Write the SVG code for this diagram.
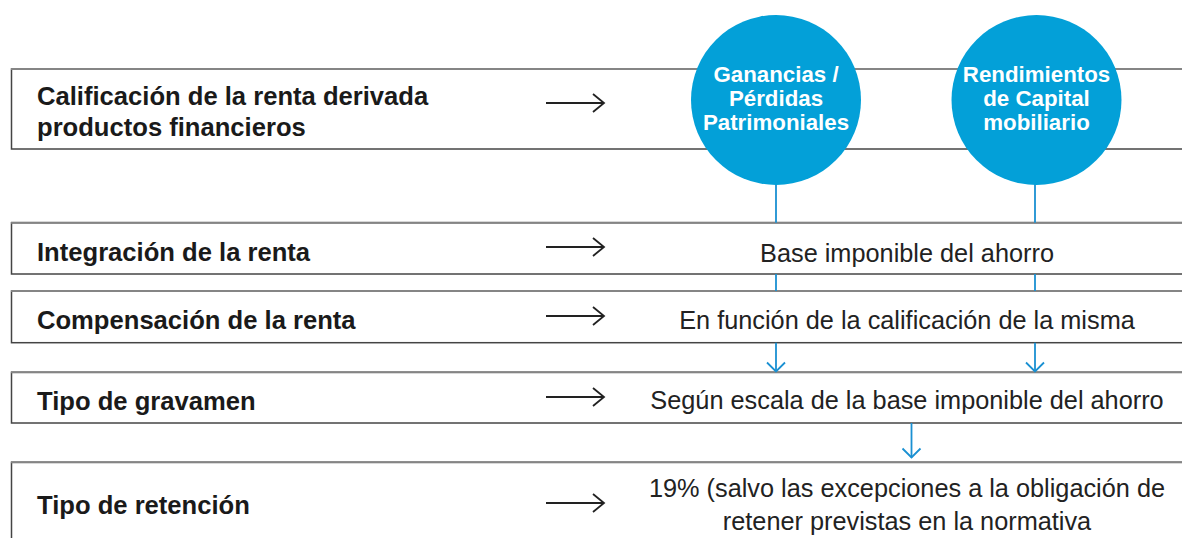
<svg xmlns="http://www.w3.org/2000/svg" width="1182" height="538" viewBox="0 0 1182 538">
<style>
.box{fill:#fff;stroke:#444;stroke-width:1.5}
.topline{stroke:#858585;stroke-width:2}
.lbl{font-family:"Liberation Sans",Arial,sans-serif;font-weight:bold;font-size:25.6px;fill:#1a1a1a}
.val{font-family:"Liberation Sans",Arial,sans-serif;font-size:25.3px;fill:#222;text-anchor:middle}
.circ{fill:#03a0d8}
.ctext{font-family:"Liberation Sans",Arial,sans-serif;font-weight:bold;font-size:22.3px;fill:#fff;text-anchor:middle}
.arr{stroke:#222;stroke-width:1.8;fill:none;marker-end:url(#chev)}
.blue{stroke:#1a90d2;stroke-width:1.8;fill:none}
.bluearr{stroke:#1a90d2;stroke-width:1.8;fill:none;marker-end:url(#bchev)}
</style>
<defs>
<marker id="chev" markerUnits="userSpaceOnUse" markerWidth="16" markerHeight="24" refX="13" refY="11" orient="auto">
<path d="M2,2 L13,11 L2,20" fill="none" stroke="#222" stroke-width="1.8"/>
</marker>
<marker id="bchev" markerUnits="userSpaceOnUse" markerWidth="14" markerHeight="24" refX="11" refY="11" orient="auto">
<path d="M2,2 L11,11 L2,20" fill="none" stroke="#1a90d2" stroke-width="1.8"/>
</marker>
</defs>
<rect width="1182" height="538" fill="#fff"/>

<g id="row1">
<rect class="box" x="11.5" y="69" width="1200" height="80"/>
<line class="topline" x1="11" y1="69" x2="1182" y2="69"/>
<text class="lbl" x="37" y="105">Calificación de la renta derivada</text>
<text class="lbl" x="37" y="136">productos financieros</text>
</g>
<g id="row2">
<rect class="box" x="11.5" y="222.7" width="1200" height="51.3"/>
<line class="topline" x1="11" y1="222.7" x2="1182" y2="222.7"/>
<text class="lbl" x="37" y="261">Integración de la renta</text>
<text class="val" x="907" y="262">Base imponible del ahorro</text>
</g>
<g id="row3">
<rect class="box" x="11.5" y="291" width="1200" height="51.7"/>
<line class="topline" x1="11" y1="291" x2="1182" y2="291"/>
<text class="lbl" x="37" y="329">Compensación de la renta</text>
<text class="val" x="907" y="329">En función de la calificación de la misma</text>
</g>
<g id="row4">
<rect class="box" x="11.5" y="372.3" width="1200" height="50.7"/>
<line class="topline" x1="11" y1="372.3" x2="1182" y2="372.3"/>
<text class="lbl" x="37" y="410">Tipo de gravamen</text>
<text class="val" x="907" y="409">Según escala de la base imponible del ahorro</text>
</g>
<g id="row5">
<rect class="box" x="11.5" y="462.3" width="1200" height="100"/>
<line class="topline" x1="11" y1="462.3" x2="1182" y2="462.3"/>
<text class="lbl" x="37" y="514">Tipo de retención</text>
<text class="val" x="907" y="497">19% (salvo las excepciones a la obligación de</text>
<text class="val" x="907" y="530">retener previstas en la normativa</text>
</g>

<g id="connectors">
<line class="arr" x1="546" y1="103" x2="604" y2="103"/>
<line class="arr" x1="546" y1="247" x2="604" y2="247"/>
<line class="arr" x1="546" y1="316" x2="604" y2="316"/>
<line class="arr" x1="546" y1="397" x2="604" y2="397"/>
<line class="arr" x1="546" y1="503" x2="604" y2="503"/>
<line class="blue" x1="776" y1="180" x2="776" y2="222.7"/>
<line class="blue" x1="1035" y1="180" x2="1035" y2="222.7"/>
<line class="blue" x1="776" y1="274" x2="776" y2="291"/>
<line class="blue" x1="1035" y1="274" x2="1035" y2="291"/>
<line class="bluearr" x1="776" y1="342.7" x2="776" y2="371.5"/>
<line class="bluearr" x1="1035" y1="342.7" x2="1035" y2="371.5"/>
<line class="bluearr" x1="911.5" y1="423" x2="911.5" y2="457.5"/>
</g>

<g id="ganancias">
<circle class="circ" cx="776" cy="100" r="85"/>
<text class="ctext" x="776" y="82">Ganancias /</text>
<text class="ctext" x="776" y="106">Pérdidas</text>
<text class="ctext" x="776" y="129.5">Patrimoniales</text>
</g>
<g id="rendimientos">
<circle class="circ" cx="1036.5" cy="100" r="85"/>
<text class="ctext" x="1036.5" y="82">Rendimientos</text>
<text class="ctext" x="1036.5" y="106">de Capital</text>
<text class="ctext" x="1036.5" y="129.5">mobiliario</text>
</g>
</svg>
